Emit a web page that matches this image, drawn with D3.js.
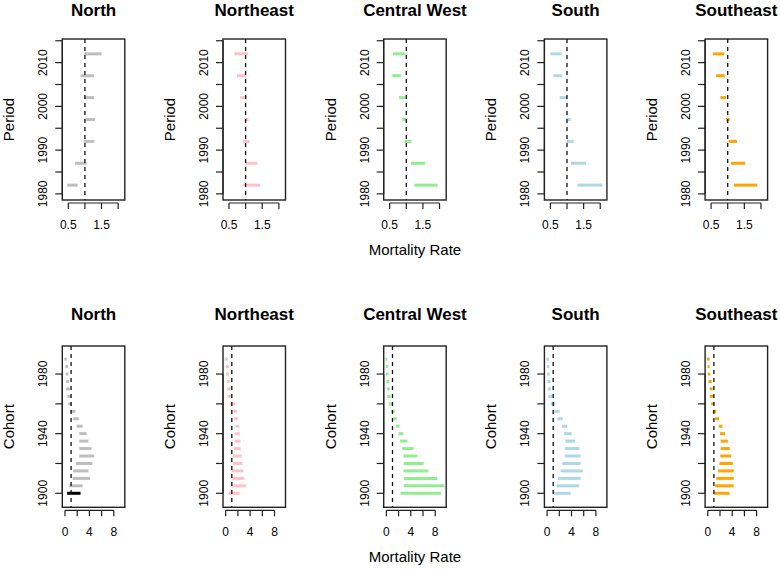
<!DOCTYPE html>
<html>
  <head>
    <title>Mortality Rate by Period and Cohort</title>
    <style>
      body,
      html {
        margin: 0;
        padding: 0;
        background: #fff;
      }
      svg {
        display: block;
        font-family: 'Liberation Sans', Arial, sans-serif;
      }
    </style>
  </head>
  <body>
    <svg id="svg" width="780" height="571"></svg>
    <script src="https://cdn.jsdelivr.net/npm/d3@7"></script>
    <script>
      const regions = ['North', 'Northeast', 'Central West', 'South', 'Southeast'];
      const colors = ['#bebebe', '#ffc0cb', '#90ee90', '#add8e6', '#ffa500'];

      // period effects (midpoint years), lower / upper per region
      const periods = [1982, 1987, 1992, 1997, 2002, 2007, 2012];
      const periodLower = [
        [0.47, 0.7, 0.97, 1.02, 0.98, 0.87, 0.98],
        [0.92, 0.99, 0.92, 0.96, 0.84, 0.74, 0.66],
        [1.24, 1.14, 0.94, 0.88, 0.78, 0.58, 0.6],
        [1.32, 1.12, 1.0, 0.99, 0.78, 0.59, 0.5],
        [1.19, 1.1, 1.03, 0.95, 0.78, 0.65, 0.56],
      ];
      const periodUpper = [
        [0.78, 1.05, 1.28, 1.3, 1.27, 1.27, 1.5],
        [1.44, 1.36, 1.12, 1.09, 1.04, 1.02, 1.07],
        [1.94, 1.57, 1.16, 1.02, 0.97, 0.84, 0.97],
        [2.06, 1.57, 1.2, 1.11, 1.0, 0.85, 0.84],
        [1.89, 1.52, 1.28, 1.06, 0.95, 0.91, 0.89],
      ];

      // cohort effects
      const cohorts = [
        1900, 1905, 1910, 1915, 1920, 1925, 1930, 1935, 1940, 1945, 1950, 1955,
        1960, 1965, 1970, 1975, 1980, 1985, 1990,
      ];
      const cohortLower = [
        [0.35, 0.7, 1.25, 1.35, 1.8, 2.35, 2.35, 2.35, 2.35, 1.9, 1.35, 0.9, 0.55, 0.4, 0.15, 0.2, 0.1, 0.05, -0.1],
        [0.45, 0.95, 1.05, 1.0, 1.2, 1.2, 1.33, 1.45, 1.5, 1.6, 1.33, 1.1, 0.77, 0.33, 0.2, 0.2, 0.05, 0, -0.15],
        [2.3, 2.85, 2.9, 2.8, 2.85, 2.8, 2.6, 2.25, 2.0, 1.55, 1.15, 0.8, 0.4, 0.15, 0.05, 0, -0.05, -0.1, -0.15],
        [1.1, 1.55, 1.8, 2.2, 2.5, 2.9, 2.9, 3.0, 2.8, 2.45, 1.7, 1.2, 0.6, 0.2, 0.1, 0.05, 0, -0.05, -0.1],
        [1.0, 1.2, 1.4, 1.7, 1.9, 2.05, 2.1, 2.1, 2.0, 1.8, 1.2, 0.8, 0.55, 0.35, 0.3, 0.1, 0, -0.05, -0.15],
      ];
      const cohortUpper = [
        [2.55, 2.9, 4.1, 3.85, 4.5, 4.8, 4.35, 3.85, 3.55, 2.9, 2.25, 1.7, 1.1, 0.9, 0.8, 0.65, 0.55, 0.5, 0.27],
        [2.3, 3.3, 3.05, 2.9, 2.75, 2.65, 2.45, 2.45, 2.3, 2.2, 2.05, 1.9, 1.6, 1.0, 0.8, 0.65, 0.55, 0.55, 0.33],
        [8.95, 9.5, 8.3, 6.9, 6.1, 5.1, 4.45, 3.45, 2.8, 2.15, 1.7, 1.35, 1.0, 0.7, 0.55, 0.5, 0.35, 0.3, 0.15],
        [3.85, 5.25, 5.5, 5.85, 5.5, 5.5, 5.3, 4.6, 4.0, 3.3, 2.55, 2.05, 1.4, 0.9, 0.6, 0.55, 0.45, 0.35, 0.3],
        [3.55, 4.25, 4.25, 4.25, 4.1, 3.85, 3.6, 3.3, 2.85, 2.4, 1.85, 1.4, 1.1, 0.95, 0.8, 0.65, 0.4, 0.3, 0.3],
      ];
      // reference cohort drawn in black
      const highlight = { region: 'North', cohort: 1900 };

      const periodXTicks = [0.5, 1, 1.5, 2];
      const periodXLabels = [0.5, 1.5];
      const periodYTicks = [1980, 1985, 1990, 1995, 2000, 2005, 2010, 2015];
      const periodYLabels = [1980, 1990, 2000, 2010];
      const cohortXTicks = [0, 2, 4, 6, 8];
      const cohortXLabels = [0, 4, 8];
      const cohortYTicks = [1900, 1920, 1940, 1960, 1980];
      const cohortYLabels = [1900, 1940, 1980];

      const svg = d3.select('#svg');
      const panelW = 62.5;
      const panelStep = 160.7;
      const firstLeft = 62.3;

      const rows = [
        {
          top: 39,
          bottom: 200,
          title: 16,
          ylab: 'Period',
          years: periods,
          lower: periodLower,
          upper: periodUpper,
          xDomain: [0.32, 2.2],
          yDomain: [1978.6, 2015.4],
          xTicks: periodXTicks,
          xLabels: periodXLabels,
          yTicks: periodYTicks,
          yLabels: periodYLabels,
        },
        {
          top: 346,
          bottom: 507.3,
          title: 320,
          ylab: 'Cohort',
          years: cohorts,
          lower: cohortLower,
          upper: cohortUpper,
          xDomain: [-0.44, 9.8],
          yDomain: [1890.6, 1998.8],
          xTicks: cohortXTicks,
          xLabels: cohortXLabels,
          yTicks: cohortYTicks,
          yLabels: cohortYLabels,
        },
      ];

      rows.forEach((row) => {
        regions.forEach((region, i) => {
          const left = firstLeft + i * panelStep;
          const x = d3.scaleLinear().domain(row.xDomain).range([left, left + panelW]);
          const y = d3.scaleLinear().domain(row.yDomain).range([row.bottom, row.top]);
          const g = svg.append('g');

          const data = row.years.map((yr, j) => ({
            year: yr,
            lo: row.lower[i][j],
            hi: row.upper[i][j],
          }));

          g.selectAll('line.bar')
            .data(data)
            .enter()
            .append('line')
            .attr('class', 'bar')
            .attr('x1', (d) => x(d.lo))
            .attr('x2', (d) => x(d.hi))
            .attr('y1', (d) => y(d.year))
            .attr('y2', (d) => y(d.year))
            .attr('stroke', (d) =>
              row.ylab === 'Cohort' && region === highlight.region && d.year === highlight.cohort
                ? '#000'
                : colors[i]
            )
            .attr('stroke-width', 3);

          // reference line at rate = 1
          g.append('line')
            .attr('x1', x(1))
            .attr('x2', x(1))
            .attr('y1', row.top)
            .attr('y2', row.bottom)
            .attr('stroke', '#111')
            .attr('stroke-width', 1.3)
            .attr('stroke-dasharray', '4,4');

          g.append('rect')
            .attr('x', left)
            .attr('y', row.top)
            .attr('width', panelW)
            .attr('height', row.bottom - row.top)
            .attr('fill', 'none')
            .attr('stroke', '#222')
            .attr('stroke-width', 1.4);

          // x axis
          const xa = g.append('g').attr('transform', `translate(0,${row.bottom + 3})`);
          xa.append('line')
            .attr('x1', x(row.xTicks[0]))
            .attr('x2', x(row.xTicks[row.xTicks.length - 1]))
            .attr('stroke', '#222')
            .attr('stroke-width', 1.2);
          xa.selectAll('line.tick')
            .data(row.xTicks)
            .enter()
            .append('line')
            .attr('class', 'tick')
            .attr('x1', (d) => x(d))
            .attr('x2', (d) => x(d))
            .attr('y1', 0)
            .attr('y2', 6)
            .attr('stroke', '#222')
            .attr('stroke-width', 1.2);
          g.selectAll('text.xlab')
            .data(row.xLabels)
            .enter()
            .append('text')
            .attr('class', 'xlab')
            .attr('x', (d) => x(d))
            .attr('y', row.bottom + 29)
            .attr('text-anchor', 'middle')
            .attr('font-size', 12)
            .text((d) => d);

          // y axis
          g.append('line')
            .attr('x1', left)
            .attr('x2', left)
            .attr('y1', y(row.yTicks[0]))
            .attr('y2', y(row.yTicks[row.yTicks.length - 1]))
            .attr('stroke', '#222')
            .attr('stroke-width', 1.2);
          g.selectAll('line.ytick')
            .data(row.yTicks)
            .enter()
            .append('line')
            .attr('class', 'ytick')
            .attr('x1', left - 7)
            .attr('x2', left)
            .attr('y1', (d) => y(d))
            .attr('y2', (d) => y(d))
            .attr('stroke', '#222')
            .attr('stroke-width', 1.2);
          g.selectAll('text.ylab')
            .data(row.yLabels)
            .enter()
            .append('text')
            .attr('class', 'ylab')
            .attr('transform', (d) => `translate(${left - 15},${y(d)}) rotate(-90)`)
            .attr('text-anchor', 'middle')
            .attr('font-size', 12)
            .text((d) => d);

          g.append('text')
            .attr('transform', `translate(${left - 48},${(row.top + row.bottom) / 2}) rotate(-90)`)
            .attr('text-anchor', 'middle')
            .attr('font-size', 15)
            .text(row.ylab);

          g.append('text')
            .attr('x', left + panelW / 2)
            .attr('y', row.title)
            .attr('text-anchor', 'middle')
            .attr('font-size', 17)
            .attr('font-weight', 'bold')
            .text(region);

          if (i === 2) {
            g.append('text')
              .attr('x', left + panelW / 2)
              .attr('y', row.bottom + 55)
              .attr('text-anchor', 'middle')
              .attr('font-size', 15)
              .text('Mortality Rate');
          }
        });
      });
    </script>
  </body>
</html>
